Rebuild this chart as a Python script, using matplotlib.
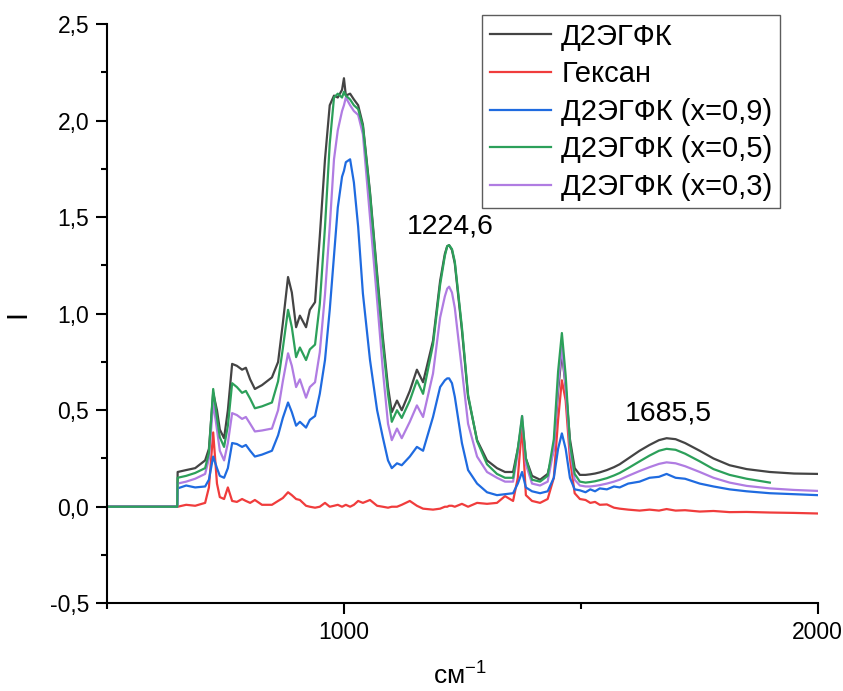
import numpy as np
import matplotlib
matplotlib.use('Agg')
import matplotlib.pyplot as plt
from matplotlib.ticker import MultipleLocator

plt.rcParams['font.family'] = ['Liberation Sans', 'DejaVu Sans']
plt.rcParams['mathtext.fontset'] = 'custom'
plt.rcParams['mathtext.rm'] = 'Liberation Sans'
plt.rcParams['mathtext.default'] = 'regular'

# wavenumbers, cm-1 (shared grid)
wn = [500, 648, 649, 667, 686, 707, 715, 724, 732, 738,
      747, 755, 764, 774, 785, 793, 802, 812, 827, 848,
      861, 871, 882, 890, 899, 907, 920, 928, 939, 949,
      960, 970, 979, 987, 996, 1000, 1004, 1013, 1021, 1030,
      1040, 1055, 1070, 1082, 1093, 1101, 1112, 1122, 1139, 1154,
      1167, 1188, 1203, 1213, 1218, 1222, 1228, 1234, 1249, 1262,
      1281, 1302, 1323, 1340, 1357, 1367, 1376, 1384, 1397, 1414,
      1430, 1443, 1452, 1460, 1468, 1477, 1487, 1498, 1510, 1520,
      1530, 1540, 1555, 1570, 1582, 1600, 1624, 1645, 1665, 1681,
      1700, 1720, 1751, 1780, 1814, 1850, 1899, 1950, 2000]

d2ehpa = [0, 0, 0.18, 0.19, 0.20, 0.24, 0.30, 0.59, 0.50, 0.40,
          0.355, 0.50, 0.74, 0.73, 0.71, 0.72, 0.66, 0.61, 0.63, 0.67,
          0.75, 0.95, 1.19, 1.11, 0.93, 0.99, 0.93, 1.02, 1.06, 1.40,
          1.80, 2.08, 2.13, 2.12, 2.16, 2.22, 2.13, 2.14, 2.11, 2.08,
          1.98, 1.63, 1.21, 0.88, 0.62, 0.49, 0.55, 0.50, 0.60, 0.71,
          0.645, 0.86, 1.17, 1.31, 1.35, 1.355, 1.33, 1.26, 0.915, 0.57,
          0.345, 0.24, 0.20, 0.18, 0.18, 0.30, 0.44, 0.25, 0.16, 0.14,
          0.17, 0.30, 0.60, 0.80, 0.62, 0.35, 0.20, 0.165, 0.165, 0.168,
          0.172, 0.178, 0.19, 0.205, 0.22, 0.25, 0.29, 0.32, 0.345, 0.355,
          0.35, 0.33, 0.29, 0.25, 0.215, 0.195, 0.18, 0.172, 0.17]

hexane = [0, 0, 0.0, 0.01, 0.005, 0.02, 0.10, 0.385, 0.12, 0.05,
          0.04, 0.10, 0.03, 0.025, 0.04, 0.03, 0.02, 0.035, 0.01, 0.01,
          0.03, 0.045, 0.075, 0.06, 0.04, 0.035, 0.005, 0.0, -0.005, 0.0,
          0.02, 0.0, 0.005, 0.01, 0.0, 0.005, 0.01, 0.0, 0.01, 0.03,
          0.02, 0.035, 0.005, 0.0, -0.005, 0.0, 0.0, 0.01, 0.03, 0.005,
          -0.01, -0.015, -0.01, 0.0, 0.0, 0.005, 0.005, 0.0, 0.015, 0.0,
          0.02, 0.015, 0.02, 0.055, 0.03, 0.15, 0.42, 0.06, 0.03, 0.02,
          0.04, 0.15, 0.45, 0.655, 0.55, 0.25, 0.07, 0.04, 0.035, 0.02,
          0.025, 0.01, 0.012, -0.005, -0.01, -0.015, -0.02, -0.015, -0.02, -0.012,
          -0.02, -0.018, -0.025, -0.022, -0.028, -0.027, -0.03, -0.032, -0.035]

x09 = [0, 0, 0.095, 0.11, 0.10, 0.105, 0.14, 0.26, 0.20, 0.16,
       0.15, 0.20, 0.33, 0.325, 0.31, 0.32, 0.29, 0.26, 0.27, 0.29,
       0.37, 0.46, 0.54, 0.49, 0.42, 0.44, 0.41, 0.45, 0.47, 0.585,
       0.76, 1.02, 1.30, 1.55, 1.71, 1.74, 1.785, 1.80, 1.68, 1.45,
       1.105, 0.76, 0.50, 0.36, 0.24, 0.20, 0.225, 0.215, 0.26, 0.31,
       0.29, 0.465, 0.62, 0.655, 0.665, 0.665, 0.64, 0.57, 0.33, 0.19,
       0.12, 0.075, 0.06, 0.065, 0.07, 0.12, 0.18, 0.10, 0.08, 0.07,
       0.08, 0.15, 0.30, 0.38, 0.30, 0.15, 0.09, 0.085, 0.075, 0.09,
       0.08, 0.095, 0.09, 0.105, 0.10, 0.12, 0.13, 0.15, 0.155, 0.17,
       0.15, 0.145, 0.12, 0.105, 0.09, 0.08, 0.07, 0.065, 0.06]

x05 = [0, 0, 0.15, 0.16, 0.175, 0.20, 0.28, 0.61, 0.46, 0.36,
       0.31, 0.42, 0.64, 0.62, 0.59, 0.60, 0.56, 0.51, 0.52, 0.54,
       0.65, 0.82, 1.02, 0.93, 0.775, 0.825, 0.76, 0.815, 0.84, 1.05,
       1.45, 1.88, 2.12, 2.14, 2.12, 2.15, 2.13, 2.11, 2.08, 2.06,
       1.97, 1.62, 1.19, 0.85, 0.585, 0.44, 0.50, 0.46, 0.55, 0.655,
       0.585, 0.84, 1.15, 1.30, 1.35, 1.355, 1.335, 1.27, 0.93, 0.58,
       0.34, 0.22, 0.17, 0.15, 0.15, 0.30, 0.47, 0.25, 0.14, 0.13,
       0.16, 0.35, 0.70, 0.90, 0.68, 0.33, 0.17, 0.13, 0.125, 0.128,
       0.132, 0.138, 0.148, 0.162, 0.175, 0.20, 0.235, 0.265, 0.29, 0.30,
       0.295, 0.275, 0.235, 0.195, 0.165, 0.145, 0.125, np.nan, np.nan]

x03 = [0, 0, 0.12, 0.13, 0.145, 0.17, 0.25, 0.54, 0.40, 0.29,
       0.24, 0.33, 0.485, 0.475, 0.455, 0.465, 0.43, 0.39, 0.395, 0.405,
       0.50, 0.65, 0.795, 0.73, 0.62, 0.66, 0.565, 0.62, 0.645, 0.80,
       1.10, 1.45, 1.80, 1.95, 2.05, 2.08, 2.12, 2.08, 2.05, 2.03,
       1.93, 1.50, 1.07, 0.71, 0.43, 0.345, 0.405, 0.355, 0.44, 0.525,
       0.465, 0.69, 0.98, 1.09, 1.13, 1.14, 1.11, 1.03, 0.71, 0.43,
       0.26, 0.18, 0.15, 0.13, 0.13, 0.28, 0.47, 0.22, 0.12, 0.11,
       0.13, 0.30, 0.63, 0.83, 0.62, 0.30, 0.14, 0.11, 0.105, 0.105,
       0.108, 0.112, 0.12, 0.13, 0.14, 0.16, 0.185, 0.205, 0.222, 0.23,
       0.225, 0.21, 0.18, 0.15, 0.125, 0.108, 0.095, 0.087, 0.082]

labels = ['Д2ЭГФК', 'Гексан', 'Д2ЭГФК (x=0,9)', 'Д2ЭГФК (x=0,5)', 'Д2ЭГФК (x=0,3)']
colors = ['#444444', '#f03c3c', '#1f6be0', '#2ca05a', '#b07ce2']
zorders = [2, 2.1, 2.2, 2.4, 2.3]
series = [d2ehpa, hexane, x09, x05, x03]

fig = plt.figure(figsize=(8.43, 6.91), dpi=100)
ax = fig.add_axes([0.127, 0.127, 0.843, 0.838])

for ys, lab, c, z in zip(series, labels, colors, zorders):
    ax.plot(wn, ys, color=c, lw=1.6, label=lab, zorder=z)

ax.set_xlim(500, 2000)
ax.set_ylim(-0.5, 2.5)
ax.xaxis.set_major_locator(MultipleLocator(1000))
ax.xaxis.set_minor_locator(MultipleLocator(500))
ax.yaxis.set_major_locator(MultipleLocator(0.5))
ax.yaxis.set_minor_locator(MultipleLocator(0.25))
ax.yaxis.set_major_formatter(plt.FuncFormatter(lambda v, p: f'{v:.1f}'.replace('.', ',')))
ax.xaxis.set_major_formatter(plt.FuncFormatter(lambda v, p: '' if v == 500 else f'{v:.0f}'))

for s in ['top', 'right']:
    ax.spines[s].set_visible(False)
for s in ['left', 'bottom']:
    ax.spines[s].set_linewidth(1.5)
ax.tick_params(which='major', direction='out', length=8, width=1.5, labelsize=16.5, pad=5)
ax.tick_params(which='minor', direction='out', length=4.5, width=1.5)

ax.set_xlabel('см$^{-1}$', fontsize=19, va='top')
ax.xaxis.set_label_coords(0.496, -0.102)
ax.set_ylabel('I', fontsize=21, rotation=90)
ax.yaxis.set_label_coords(-0.106, 0.5)

ax.text(1224.6, 1.385, '1224,6', fontsize=20.5, ha='center', va='bottom')
ax.text(1685.5, 0.415, '1685,5', fontsize=20.5, ha='center', va='bottom')

leg = ax.legend(loc='upper right', fontsize=21, frameon=True, fancybox=False,
                edgecolor='#333333', handlelength=2.1, borderpad=0.25, labelspacing=0.33,
                handletextpad=0.35, borderaxespad=0, bbox_to_anchor=(0.9466, 1.0155))
leg.get_frame().set_linewidth(1.0)

fig.savefig('out.png', dpi=100)
